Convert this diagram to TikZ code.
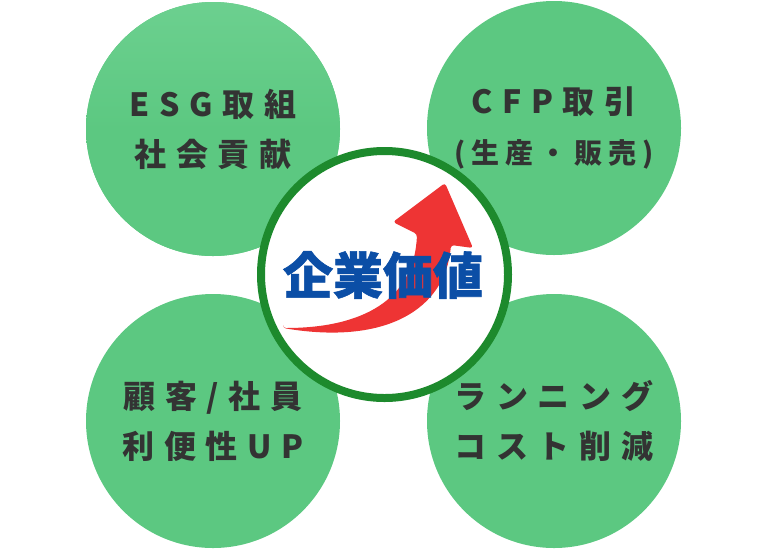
\documentclass[tikz,border=0pt]{standalone}
\usepackage{fontspec}
\newfontfamily\jpfont[LetterSpace=30]{Noto Sans CJK JP}
\newfontfamily\jpsub[LetterSpace=22]{Noto Sans CJK JP}
\newfontfamily\jpheavy[FakeBold=1.2]{Noto Sans CJK JP}
\definecolor{bubble}{HTML}{5CC881}
\definecolor{bubblelight}{HTML}{6CD08F}
\definecolor{ring}{HTML}{1D8A2D}
\definecolor{corpblue}{HTML}{0B4EA6}
\definecolor{arrowred}{HTML}{EE3434}
\definecolor{txt}{HTML}{333333}
\tikzset{
  bubblenode/.style={circle, fill=bubble, minimum size=254pt, inner sep=0pt,
    text=txt, align=center, font=\jpfont\bfseries\fontsize{32}{50}\selectfont},
}
\begin{document}
\begin{tikzpicture}[x=1pt,y=-1pt]
\useasboundingbox (0,0) rectangle (768,550);
\node[bubblenode, top color=bubblelight, bottom color=bubble, middle color=bubble] (esg) at (213,129) {ESG取組\\社会貢献};
\node[bubblenode] (cfp) at (554,128) {CFP取引\\{\jpsub\bfseries\fontsize{28}{50}\selectfont (生産・販売)}};
\node[bubblenode] (cust) at (213,421) {顧客/社員\\利便性UP};
\node[bubblenode] (cost) at (554,421) {ランニング\\コスト削減};
\node[circle, draw=ring, line width=8pt, fill=white, minimum size=247pt, inner sep=0pt] (core) at (384.5,274.5) {};
\fill[arrowred, rounded corners=3pt] (283,328) .. controls (362,328) and (414,300) .. (417,234)
  -- (393,222) -- (445,183) -- (473,248) -- (451,245)
  .. controls (445,310) and (385,345) .. (283,328) -- cycle;
\node[text=corpblue, font=\jpheavy\bfseries\fontsize{50}{50}\selectfont, inner sep=0pt] (value) at (383,275) {企業価値};
\end{tikzpicture}
\end{document}
